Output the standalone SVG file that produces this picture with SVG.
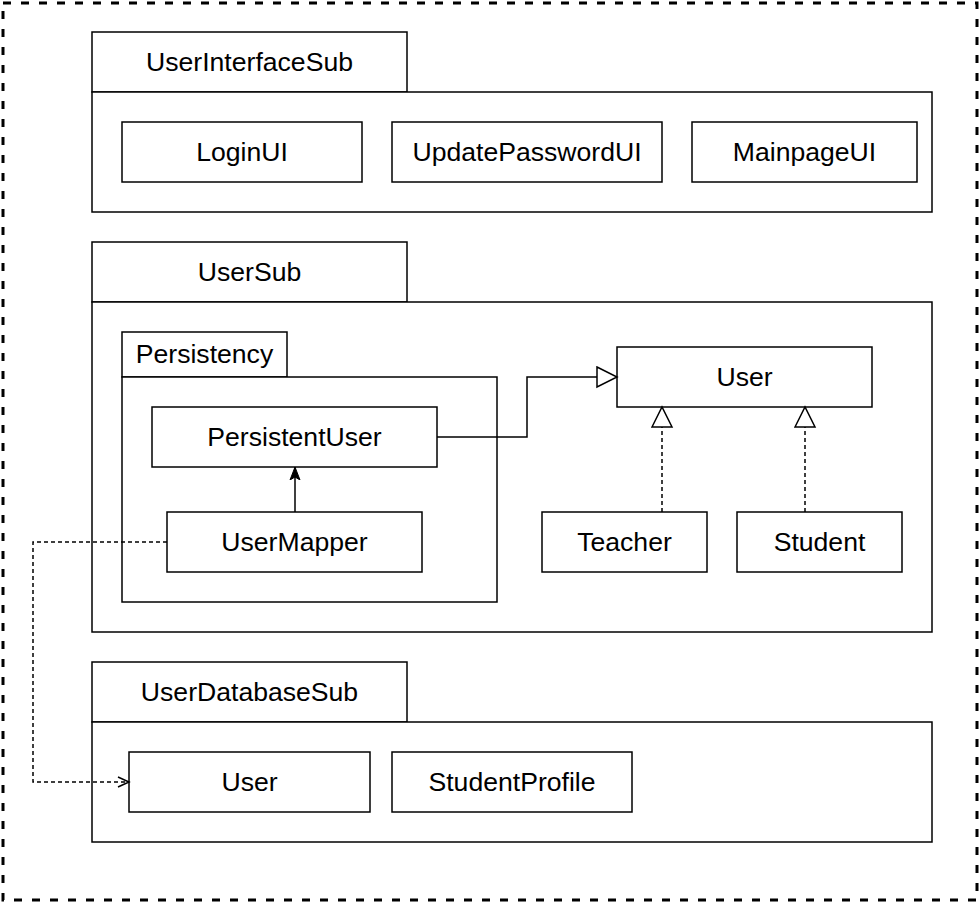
<svg xmlns="http://www.w3.org/2000/svg" width="980" height="903" viewBox="0 0 980 903">
<defs>
<style>
.b{fill:#fff;stroke:#000;stroke-width:1.5}
.t{font-family:"Liberation Sans",Arial,sans-serif;font-size:26.6px;fill:#000;text-anchor:middle}
.c{fill:none;stroke:#000;stroke-width:1.5}
.d{stroke-dasharray:4 3}
</style>
<marker id="tri" markerWidth="24" markerHeight="24" refX="21" refY="11" orient="auto" markerUnits="userSpaceOnUse">
<path d="M1,1 L21,11 L1,21 Z" fill="#fff" stroke="#000" stroke-width="1.5"/>
</marker>
<marker id="fill" markerWidth="16" markerHeight="16" refX="13" refY="6" orient="auto" markerUnits="userSpaceOnUse">
<path d="M0,1 L13,6 L0,11 L3,6 Z" fill="#000" stroke="#000" stroke-width="1"/>
</marker>
<marker id="open" markerWidth="16" markerHeight="16" refX="12" refY="6" orient="auto" markerUnits="userSpaceOnUse">
<path d="M1,1 L12,6 L1,11" fill="none" stroke="#000" stroke-width="1.5"/>
</marker>
</defs>
<rect width="980" height="903" fill="#fff"/>
<rect x="3" y="3" width="974" height="897" fill="none" stroke="#000" stroke-width="3" stroke-dasharray="8 10"/>

<g id="UserInterfaceSub">
<rect class="b" x="92" y="32" width="315" height="60"/>
<rect class="b" x="92" y="92" width="840" height="120"/>
<text class="t" x="249.5" y="71">UserInterfaceSub</text>
</g>
<g id="LoginUI"><rect class="b" x="122" y="122" width="240" height="60"/><text class="t" x="242" y="161">LoginUI</text></g>
<g id="UpdatePasswordUI"><rect class="b" x="392" y="122" width="270" height="60"/><text class="t" x="527" y="161">UpdatePasswordUI</text></g>
<g id="MainpageUI"><rect class="b" x="692" y="122" width="225" height="60"/><text class="t" x="804.5" y="161">MainpageUI</text></g>

<g id="UserSub">
<rect class="b" x="92" y="242" width="315" height="60"/>
<rect class="b" x="92" y="302" width="840" height="330"/>
<text class="t" x="249.5" y="281">UserSub</text>
</g>
<g id="Persistency">
<rect class="b" x="122" y="332" width="165" height="45"/>
<rect class="b" x="122" y="377" width="375" height="225"/>
<text class="t" x="204.5" y="363">Persistency</text>
</g>
<g id="PersistentUser"><rect class="b" x="152" y="407" width="285" height="60"/><text class="t" x="294.5" y="446">PersistentUser</text></g>
<g id="UserMapper"><rect class="b" x="167" y="512" width="255" height="60"/><text class="t" x="294.5" y="551">UserMapper</text></g>
<g id="User"><rect class="b" x="617" y="347" width="255" height="60"/><text class="t" x="744.5" y="386">User</text></g>
<g id="Teacher"><rect class="b" x="542" y="512" width="165" height="60"/><text class="t" x="624.5" y="551">Teacher</text></g>
<g id="Student"><rect class="b" x="737" y="512" width="165" height="60"/><text class="t" x="819.5" y="551">Student</text></g>

<g id="UserDatabaseSub">
<rect class="b" x="92" y="662" width="315" height="60"/>
<rect class="b" x="92" y="722" width="840" height="120"/>
<text class="t" x="249.5" y="701">UserDatabaseSub</text>
</g>
<g id="DBUser"><rect class="b" x="129" y="752" width="241" height="60"/><text class="t" x="249.5" y="791">User</text></g>
<g id="StudentProfile"><rect class="b" x="392" y="752" width="240" height="60"/><text class="t" x="512" y="791">StudentProfile</text></g>

<g id="connectors">
<path class="c" d="M437,437 H527 V377 H617" marker-end="url(#tri)"/>
<path class="c d" d="M662,512 V407" marker-end="url(#tri)"/>
<path class="c d" d="M805,512 V407" marker-end="url(#tri)"/>
<path class="c" d="M295,512 V467" marker-end="url(#fill)"/>
<path class="c d" d="M167,542 H33 V782 H129" marker-end="url(#open)"/>
</g>
</svg>
